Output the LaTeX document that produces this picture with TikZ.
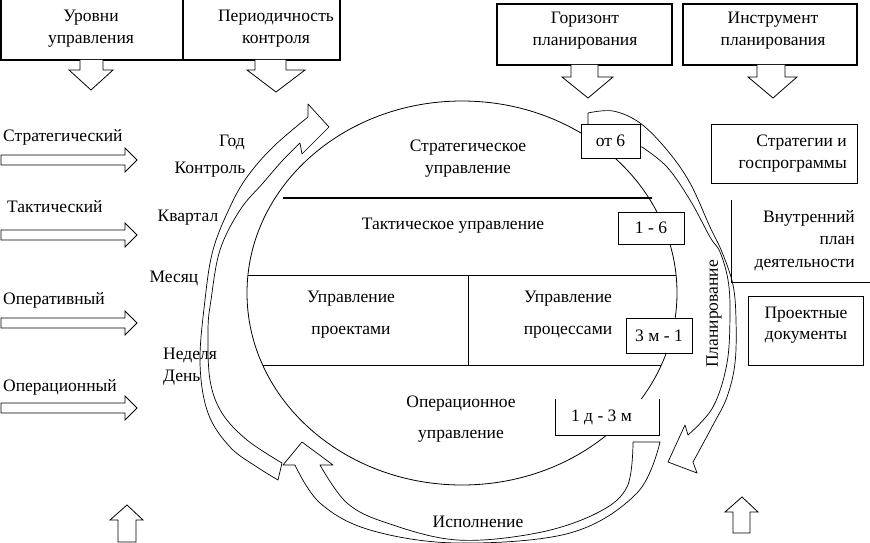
\documentclass[tikz,border=0pt]{standalone}
\usepackage{fontspec}
\setmainfont{Liberation Serif}
\begin{document}
\begin{tikzpicture}[x=1pt,y=-1pt,
  txt/.style={inner sep=0pt, font=\fontsize{17.5}{22}\selectfont, align=center},
  thickbox/.style={draw, line width=2pt},
  midbox/.style={draw, line width=1.3pt},
  thinline/.style={line width=0.8pt},
  band/.style={draw, fill=white, line width=0.7pt, line join=round},
  blockarrow/.style={draw, fill=white, line width=0.8pt},
  numbox/.style={txt, draw, fill=white, line width=0.9pt}]
\useasboundingbox (0,0) rectangle (870,543);

% ---- top boxes
\draw[thickbox] (1,-3) rectangle (183,60);
\draw[thickbox] (183,-3) rectangle (340,60);
\draw[midbox] (497,4) rectangle (672,65);
\draw[midbox] (683,4) rectangle (857,65);
\node[txt] (uroven) at (91,28.5) {Уровни\\управления};
\node[txt] (period) at (276,29) {Периодичность\\контроля};
\node[txt] (horiz) at (585,31) {Горизонт\\планирования};
\node[txt] (instr) at (773,31) {Инструмент\\планирования};

% ---- down arrows under top boxes
\draw[blockarrow] (80,60) -- (80,70) -- (69,70) -- (91,90) -- (113,70) -- (103,70) -- (103,60);
\draw[blockarrow] (255,60) -- (255,70) -- (247,70) -- (276,92) -- (305,70) -- (286,70) -- (286,60);
\draw[blockarrow] (571,65) -- (571,77) -- (562,77) -- (588,98) -- (613,77) -- (598,77) -- (598,65);
\draw[blockarrow] (757,65) -- (757,77) -- (748,77) -- (773,98) -- (797,77) -- (785,77) -- (785,65);

% ---- left labels and right-pointing arrows
\node[txt, anchor=west] (lstrat) at (3,137) {Стратегический};
\node[txt, anchor=west] (ltakt) at (7,207) {Тактический};
\node[txt, anchor=west] (loper) at (3,300) {Оперативный};
\node[txt, anchor=west] (lopern) at (3,387) {Операционный};
\foreach \yy in {160,235,323,408}
  \draw[blockarrow, shift={(0,\yy)}] (1,-5) -- (125,-5) -- (125,-12) -- (137,0) -- (125,12) -- (125,5) -- (1,5) -- cycle;

% ---- up arrows at bottom
\draw[blockarrow] (118,542) -- (118,520) -- (110,520) -- (127,505) -- (143,520) -- (136,520) -- (136,542) -- cycle;
\draw[blockarrow] (733,533) -- (733,512) -- (725,512) -- (742,497) -- (758,512) -- (750,512) -- (750,533) -- cycle;

% ---- the circle and its partitions
\draw[thinline] (462,293) ellipse [x radius=215pt, y radius=192pt];
\draw[line width=1.6pt] (283,198) -- (652,198);
\draw[thinline] (248,275) -- (676,275);
\draw[thinline] (468,275) -- (468,365);
\draw[thinline] (263,365) -- (661,365);

% ---- curved band arrows
% control (left, up)
\draw[band] plot[smooth, tension=0.6] coordinates {(282,463) (247,440) (222,413) (210,380) (208,330) (211,300) (220,250) (240,210) (263,183) (283,160) (300,143)}
  -- (302,154) -- (329,127) -- (308,104) -- (308,117)
  -- plot[smooth, tension=0.6] coordinates {(308,117) (273,147) (247,177) (230,207) (213,250) (205,300) (200,363) (208,413) (230,447) (257,467) (278,480)}
  -- cycle;
% execution (bottom)
\draw[band] plot[smooth, tension=0.6] coordinates {(633,442) (627,487) (597,513) (537,533) (457,540) (387,523) (347,503) (320,465)}
  -- (333,465) -- (302,442) -- (283,465) -- (295,465)
  -- plot[smooth, tension=0.6] coordinates {(295,465) (320,503) (370,530) (457,543) (570,533) (637,493) (660,442)}
  -- cycle;
% planning (right, down)
\draw[band] (588,124) -- plot[smooth, tension=0.6] coordinates {(588,113) (613,111) (640,123) (667,150) (690,183) (710,227) (722,252) (733,285) (736,320) (735,363) (727,397) (713,425) (693,462)}
  -- (697,473) -- (668,462) -- (685,425) -- (688,435)
  -- plot[smooth, tension=0.6] coordinates {(688,435) (713,407) (727,363) (730,313) (728,280) (720,252) (710,237) (690,200) (667,167) (642,147)}
  -- (625,145) -- cycle;

% ---- horizon boxes
\node[numbox, minimum width=59pt, minimum height=34pt] (b1) at (610.5,141) {от 6};
\node[numbox, minimum width=66pt, minimum height=32pt] (b2) at (651,228) {1 - 6};
\node[numbox, minimum width=66pt, minimum height=35pt] (b3) at (659,335.5) {3 м - 1};
\node[txt, fill=white, minimum width=103pt, minimum height=36pt] (b4) at (607.5,417) {1 д - 3 м\hspace{12pt}};
\draw[line width=0.9pt] (b4.north west) -- (b4.south west) -- (b4.south east) -- (b4.north east);

% ---- section texts
\node[txt] (s1) at (468,159) {Стратегическое\\управление};
\node[txt] (s2) at (453,226) {Тактическое управление};
\node[txt] (s3) at (351,315) {Управление\\[10pt]проектами};
\node[txt] (s4) at (568,315) {Управление\\[10pt]процессами};
\node[txt] (s5) at (461,419) {Операционное\\[9pt]управление};

% ---- period labels
\node[txt] (god) at (232,142) {Год};
\node[txt] (kontrol) at (210,170) {Контроль};
\node[txt] (kvartal) at (188,218) {Квартал};
\node[txt] (mesyats) at (174,278) {Месяц};
\node[txt, anchor=west] (nedelya) at (163,355) {Неделя};
\node[txt, anchor=west] (den) at (163,378) {День};

% ---- flow labels
\node[txt, rotate=90] (plan) at (714,314) {Планирование};
\node[txt] (isp) at (478,522) {Исполнение};

% ---- planning instruments
\draw[thinline] (711,124) rectangle (857,183);
\node[txt, align=right, anchor=east] (stratprog) at (847,154) {Стратегии и\\госпрограммы};
\draw[thinline] (731,200) -- (731,282) -- (870,282);
\node[txt, align=right, anchor=east, font=\fontsize{17.5}{22.5}\selectfont] (vnutr) at (855,240.5) {Внутренний\\план\\деятельности};
\draw[thinline] (748,296) rectangle (863,365);
\node[txt, font=\fontsize{17.5}{20.5}\selectfont] (proekt) at (806,325) {Проектные\\документы};
\end{tikzpicture}
\end{document}
